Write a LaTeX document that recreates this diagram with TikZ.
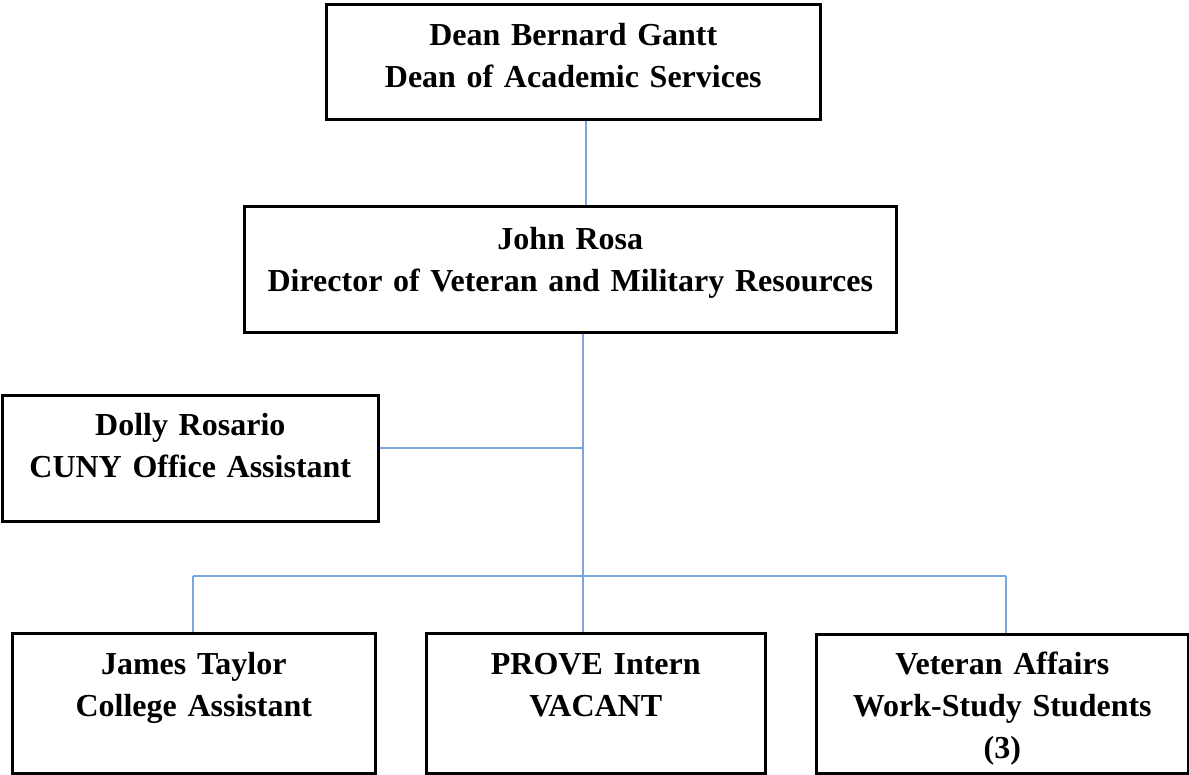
\documentclass[tikz,border=0pt]{standalone}
\usepackage{fontspec}
\setmainfont{Liberation Serif}
\definecolor{linkblue}{HTML}{7BA7DC}
\tikzset{
  orgbox/.style={draw, line width=2.6pt, anchor=north west, align=center, inner sep=0pt,
                 font=\fontsize{32}{42}\selectfont\bfseries},
  link/.style={draw=linkblue, line width=1.8pt}
}
\begin{document}
\begin{tikzpicture}[x=1pt,y=-1pt]
                    \useasboundingbox (0,0) rectangle (1189,774);
                    \node [orgbox, text width=494pt, text height=41pt, text depth=74pt] (dean) at (325,3) {Dean Bernard Gantt\\Dean of Academic Services};
                    \node [orgbox, text width=652pt, text height=43pt, text depth=83pt] (rosa) at (243,205) {John Rosa\\Director of Veteran and Military Resources};
                    \node [orgbox, text width=376pt, text height=40pt, text depth=86pt] (dolly) at (1,394) {Dolly Rosario\\CUNY Office Assistant};
                    \node [orgbox, text width=363pt, text height=41pt, text depth=99pt] (taylor) at (11,632) {James Taylor\\College Assistant};
                    \node [orgbox, text width=339pt, text height=41pt, text depth=99pt] (prove) at (425,632) {PROVE Intern\\VACANT};
                    \node [orgbox, text width=372pt, text height=40pt, text depth=99pt] (vet) at (815,633) {Veteran Affairs\\Work-Study Students\\(3)};
                    % connectors
                    \coordinate (hub) at (583,448);
                    \coordinate (bar) at (583,576);
                    \coordinate (barL) at (193,576);
                    \coordinate (barR) at (1006,576);
                    \draw [link] ([xshift=13pt]dean.south) -- ([xshift=13pt]dean.south |- rosa.north);
                    \draw [link] (rosa.south -| hub) -- (bar) -- (bar |- prove.north);
                    \draw [link] (dolly.east |- hub) -- (hub);
                    \draw [link] (barL) -- (barR);
                    \draw [link] (barL) -- (barL |- taylor.north);
                    \draw [link] (barR) -- (barR |- vet.north);
                \end{tikzpicture}
\end{document}
